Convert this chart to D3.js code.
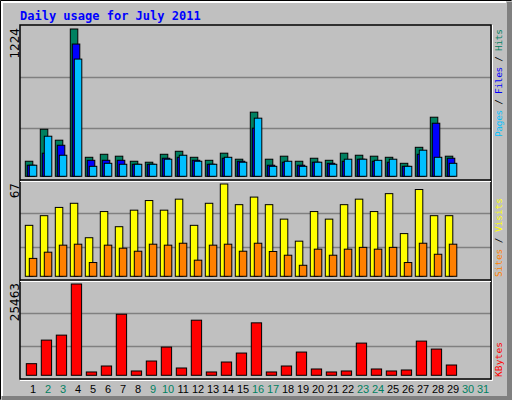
<!DOCTYPE html>
<html>
<head>
<meta charset="utf-8">
<script src="https://cdn.jsdelivr.net/npm/d3@7"></script>
<style>
  body { margin: 0; background: #fff; }
  svg { display: block; }
</style>
</head>
<body>
<div class="daily-usage"></div>
<script>
const days = d3.range(1, 32);
const weekends = [2, 3, 9, 10, 16, 17, 23, 24, 30, 31];
const hits = [125, 391, 300, 1224, 158, 183, 167, 125, 117, 183, 208, 158, 133, 192, 142, 533,
  142, 167, 125, 150, 133, 192, 175, 167, 158, 108, 241, 491, 167, 0, 0];
const files = [92, 192, 258, 1099, 133, 133, 133, 100, 100, 150, 158, 133, 100, 150, 125, 400,
  92, 117, 92, 117, 108, 125, 142, 125, 117, 83, 183, 441, 150, 0, 0];
const pages = [92, 333, 175, 974, 83, 108, 100, 100, 100, 142, 175, 125, 100, 158, 117, 483,
  83, 125, 83, 117, 100, 142, 142, 133, 142, 83, 217, 158, 108, 0, 0];
const visits = [37, 44, 50, 53, 28, 47, 36, 48, 55, 48, 56, 37, 53, 67, 52, 57.5,
  52, 41.5, 25.5, 47, 41.5, 52, 56, 47, 60, 31, 63, 44, 44, 0, 0];
const sites = [13, 17.5, 22.6, 23.3, 10, 22.6, 20.4, 18.2, 23.3, 22.6, 24, 11.7, 22.6, 23.3, 18.2, 24,
  18, 15.3, 8, 19.7, 15.3, 19.7, 21, 19.7, 21, 10, 24, 16, 23.3, 0, 0];
const kbytes = [3241, 9815, 11203, 25463, 926, 2593, 17037, 1204, 3981, 7870, 2037, 15370, 926, 3704, 6204, 14630,
  926, 2593, 6481, 1759, 926, 1204, 8981, 1759, 1204, 1481, 9537, 7315, 2870, 0, 0];
const maxLabels = ["1224", "67", "25463"];

const draw = () => {
    const width = 512, height = 400;
    const left = 20, right = 491;
    const svg = d3.select(".daily-usage").append("svg")
        .attr("width", width).attr("height", height);

    // window frame
    svg.append("rect").attr("width", width).attr("height", height).attr("fill", "#c0c0c0");
    svg.append("path").attr("d", "M0.5,399.5V0.5H511.5").attr("stroke", "#000").attr("fill", "none");
    svg.append("path").attr("d", "M2,396V2H506").attr("stroke", "#fff").attr("stroke-width", 2).attr("fill", "none");
    svg.append("rect").attr("x", 507).attr("y", 2).attr("width", 5).attr("height", 398).attr("fill", "#808080");
    svg.append("rect").attr("x", 2).attr("y", 396).attr("width", 510).attr("height", 4).attr("fill", "#808080");

    svg.append("text").attr("x", 20).attr("y", 20)
        .attr("font-family", "DejaVu Sans Mono").attr("font-weight", "bold").attr("font-size", 12)
        .attr("fill", "#0000ff").text("Daily usage for July 2011");

    const x = d3.scaleLinear().domain([1, 32]).range([25.3, 490.3]);

    const panels = [
        { top: 25, bottom: 180, max: 1224, series: [[hits, "#008060", 0], [files, "#0000ff", 2], [pages, "#00c0ff", 4]], bw: 7.5 },
        { top: 180, bottom: 280, max: 67, series: [[visits, "#ffff00", 0], [sites, "#ff8000", 4]], bw: 7.5 },
        { top: 280, bottom: 379, max: 25463, series: [[kbytes, "#ff0000", 1]], bw: 10.3 }
    ];

    panels.forEach((p, pi) => {
        const base = p.bottom - 3.7;
        const y = d3.scaleLinear().domain([0, p.max]).range([base, p.top + 4]);
        const span = p.bottom - p.top;
        [1, 2].forEach(k => {
            const gy = Math.round(p.bottom - span * k / 3) + 0.5;
            svg.append("line").attr("x1", left).attr("x2", right).attr("y1", gy).attr("y2", gy)
                .attr("stroke", "#808080").attr("stroke-width", 1.5);
        });
        p.series.forEach(([vals, color, off]) => {
            svg.append("g").selectAll("rect")
                .data(days.filter((d, i) => vals[i] > 0))
                .enter().append("rect")
                .attr("x", d => x(d) + off)
                .attr("y", d => y(vals[d - 1]))
                .attr("width", p.bw)
                .attr("height", d => base - y(vals[d - 1]))
                .attr("fill", color).attr("stroke", "#000").attr("stroke-width", 1);
        });
        svg.append("text")
            .attr("transform", "translate(19," + (p.top + 3) + ") rotate(-90)")
            .attr("text-anchor", "end").attr("font-family", "DejaVu Sans").attr("font-size", 12)
            .text(maxLabels[pi]);
    });

    // panel frames
    svg.append("rect").attr("x", left).attr("y", 25).attr("width", right - left).attr("height", 354)
        .attr("fill", "none").attr("stroke", "#000").attr("stroke-width", 1.5);
    [180, 280].forEach(yy => {
        svg.append("line").attr("x1", left).attr("x2", right).attr("y1", yy).attr("y2", yy)
            .attr("stroke", "#000").attr("stroke-width", 1.5);
        svg.append("line").attr("x1", left).attr("x2", right).attr("y1", yy + 1.5).attr("y2", yy + 1.5)
            .attr("stroke", "#fff").attr("stroke-width", 1);
    });
    svg.append("path").attr("d", "M" + left + ",380.5H" + (right + 1.5) + "V25")
        .attr("stroke", "#fff").attr("fill", "none");

    // day labels
    svg.append("g").selectAll("text").data(days).enter().append("text")
        .attr("x", d => x(d) + 7.8).attr("y", 393)
        .attr("text-anchor", "middle").attr("font-family", "Liberation Sans").attr("font-size", 11)
        .attr("fill", d => weekends.includes(d) ? "#008060" : "#000")
        .text(d => d);

    // right side legends
    const legends = [
        { y: 137, len: 108, parts: [["Pages", "#00c0ff"], [" / ", "#000"], ["Files", "#0000ff"], [" / ", "#000"], ["Hits", "#008060"]] },
        { y: 277, len: 79, parts: [["Sites", "#ff8000"], [" / ", "#000"], ["Visits", "#ffff00"]] },
        { y: 377, len: 35, parts: [["KBytes", "#ff0000"]] }
    ];
    legends.forEach(l => {
        const t = svg.append("text")
            .attr("transform", "translate(502," + l.y + ") rotate(-90)")
            .attr("font-family", "DejaVu Sans Mono").attr("font-size", 9.5)
            .attr("textLength", l.len).attr("lengthAdjust", "spacing");
        l.parts.forEach(([s, c]) => t.append("tspan").attr("fill", c).text(s));
    });
};

draw();
</script>
</body>
</html>
